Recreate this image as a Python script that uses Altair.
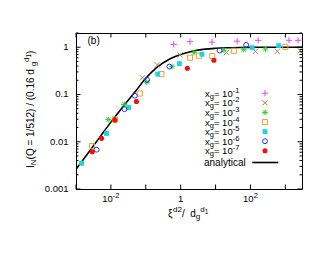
import altair as alt
import pandas as pd

FONT = "Liberation Sans"

# ---------------- data ----------------
xg1_x = [0.63, 1.85, 7.9, 41.6, 166, 1270, 2300]
xg1_y = [1.15, 1.31, 1.28, 1.34, 1.40, 1.40, 1.40]
xg2_x = [0.080, 0.215, 0.957, 20.6, 139, 590, 2680]
xg2_y = [0.225, 0.42, 0.69, 0.77, 0.82, 0.82, 0.84]
xg3_x = [0.0084, 0.024, 0.107, 0.565, 2.4, 17.3, 64.5, 269]
xg3_y = [0.0296, 0.0615, 0.182, 0.39, 0.77, 0.865, 0.89, 0.92]
xg4_x = [0.00287, 0.013, 0.0675, 0.28, 1.85, 3.34, 8.03, 33.4, 1000]
xg4_y = [0.0081, 0.0296, 0.105, 0.27, 0.60, 0.66, 0.65, 0.84, 1.02]
xg5_x = [0.00145, 0.0075, 0.0327, 0.22, 0.916, 4.07, 112, 646]
xg5_y = [0.0035, 0.015, 0.053, 0.27, 0.45, 0.71, 0.98, 1.08]
xg6_x = [0.0039, 0.0245, 0.0485, 0.109, 0.474, 13, 75]
xg6_y = [0.0068, 0.049, 0.094, 0.204, 0.39, 0.85, 1.12]
xg7_x = [0.00293, 0.0054, 0.013, 0.054, 1.55, 8.96]
xg7_y = [0.00615, 0.0118, 0.0287, 0.071, 0.36, 0.53]

curve_x = [0.001, 0.002, 0.005, 0.01, 0.02, 0.05, 0.1, 0.2, 0.5, 1, 2, 5, 10, 20, 50, 100, 300, 1000, 3000]
curve_y = [0.0026, 0.0052, 0.013, 0.026, 0.05, 0.115, 0.22, 0.365, 0.57, 0.70, 0.81, 0.91, 0.95, 0.975, 0.99, 0.995, 1.0, 1.0, 1.0]

legend_exps = ["-1", "-2", "-3", "-4", "-5", "-6", "-7"]

y_major = [0.001, 0.01, 0.1, 1]
y_labels = ["0.001", "0.01", "0.1", "1"]
y_minor = [2e-3, 3e-3, 4e-3, 5e-3, 6e-3, 7e-3, 8e-3, 9e-3,
           2e-2, 3e-2, 4e-2, 5e-2, 6e-2, 7e-2, 8e-2, 9e-2,
           0.2, 0.3, 0.4, 0.5, 0.6, 0.7, 0.8, 0.9, 2]
x_major = [1e-3, 1e-2, 1e-1, 1, 10, 100, 1000]
x_lab_vals = [0.01, 1, 100]
x_lab_base = ["10", "1", "10"]
x_lab_exp = ["-2", "", "2"]

# ---------------- helpers ----------------
W, H = 226, 156
XS = alt.Scale(type="log", domain=[1e-3, 3e3], nice=False)
YS = alt.Scale(type="log", domain=[1e-3, 2], nice=False)
dummy = pd.DataFrame({"d": [0]})

CW = {' ': .278, '(': .333, ')': .333, 'Q': .778, '=': .584, '/': .278, '.': .278,
      'd': .556, 'g': .556, 'I': .278, 'N': .722, 'x': .5, '-': .333, 'ξ': .5,
      'a': .556, 'n': .556, 'l': .222, 'y': .5, 't': .278, 'i': .222, 'c': .5}


def tw(s, size):
    return sum(CW.get(c, .556) for c in s) * size


def txt(text, x, y, size=10, align="left", baseline="alphabetic", angle=0):
    return alt.Chart(dummy).mark_text(
        text=text, align=align, baseline=baseline, fontSize=size, font=FONT,
        color="black", angle=angle).encode(x=alt.value(x), y=alt.value(y))


def pieces_h(parts, x0, by):
    out, x = [], x0
    for t, s, dy in parts:
        out.append(txt(t, x, by + dy, s))
        x += tw(t, s)
    return out


def pieces_v(parts, y0, bx):
    out, y = [], y0
    for t, s, dx in parts:
        out.append(txt(t, bx + dx, y, s, angle=270))
        y -= tw(t, s)
    return out


PLUS = "M-1,0L1,0M0,-1L0,1"
CROSS = "M-1,-1L1,1M-1,1L1,-1"
STAR = "M-1,0L1,0M0,-1L0,1M-0.75,-0.75L0.75,0.75M-0.75,0.75L0.75,-0.75"

styles = [
    (PLUS, False, "#e34be3", 40),
    (CROSS, False, "#a8874f", 28),
    (STAR, False, "#2fd02f", 34),
    ("square", False, "#f2a030", 26),
    ("square", True, "#1ad6e0", 24),
    ("circle", False, "#2233ff", 24),
    ("circle", True, "#f01010", 26),
]
series = [(xg1_x, xg1_y), (xg2_x, xg2_y), (xg3_x, xg3_y), (xg4_x, xg4_y),
          (xg5_x, xg5_y), (xg6_x, xg6_y), (xg7_x, xg7_y)]

layers = []

# analytical curve
layers.append(alt.Chart(pd.DataFrame({"x": curve_x, "y": curve_y})).mark_line(
    color="black", strokeWidth=1.6, interpolate="monotone", clip=True).encode(
    x=alt.X("x:Q", scale=XS, axis=None), y=alt.Y("y:Q", scale=YS, axis=None)))

# data points
for (sx, sy), (shape, filled, col, size) in zip(series, styles):
    df = pd.DataFrame({"x": sx, "y": sy})
    layers.append(alt.Chart(df).mark_point(
        shape=shape, filled=filled, color=col, size=size, strokeWidth=1, opacity=1).encode(
        x=alt.X("x:Q", scale=XS, axis=None), y=alt.Y("y:Q", scale=YS, axis=None)))

# ticks (inward, mirrored)
ymaj = pd.DataFrame({"v": y_major})
ymin = pd.DataFrame({"v": y_minor})
xmaj = pd.DataFrame({"v": x_major})
for d, L in ((ymaj, 4.5), (ymin, 2.5)):
    layers.append(alt.Chart(d).mark_rule(color="black", strokeWidth=1).encode(
        y=alt.Y("v:Q", scale=YS, axis=None), x=alt.value(0), x2=alt.value(L)))
    layers.append(alt.Chart(d).mark_rule(color="black", strokeWidth=1).encode(
        y=alt.Y("v:Q", scale=YS, axis=None), x=alt.value(W), x2=alt.value(W - L)))
layers.append(alt.Chart(xmaj).mark_rule(color="black", strokeWidth=1).encode(
    x=alt.X("v:Q", scale=XS, axis=None), y=alt.value(H), y2=alt.value(H - 4.5)))
layers.append(alt.Chart(xmaj).mark_rule(color="black", strokeWidth=1).encode(
    x=alt.X("v:Q", scale=XS, axis=None), y=alt.value(0), y2=alt.value(4.5)))

# y tick labels
layers.append(alt.Chart(pd.DataFrame({"v": y_major, "t": y_labels})).mark_text(
    align="right", baseline="middle", fontSize=9.5, font=FONT, color="black").encode(
    y=alt.Y("v:Q", scale=YS, axis=None), x=alt.value(-7.5), text="t:N"))

# x tick labels
for v, b, e in zip(x_lab_vals, x_lab_base, x_lab_exp):
    d = pd.DataFrame({"v": [v]})
    bw, ew = tw(b, 9.5), tw(e, 7.5)
    off = bw - (bw + ew) / 2
    layers.append(alt.Chart(d).mark_text(
        text=b, align="right", baseline="alphabetic", fontSize=9.5, font=FONT,
        color="black", dx=off).encode(x=alt.X("v:Q", scale=XS, axis=None), y=alt.value(169)))
    if e:
        layers.append(alt.Chart(d).mark_text(
            text=e, align="left", baseline="alphabetic", fontSize=7.5, font=FONT,
            color="black", dx=off).encode(x=alt.X("v:Q", scale=XS, axis=None), y=alt.value(165)))

# x title
layers += pieces_h([("ξ", 10, 0), ("d2", 8, -4.5), (" / ", 10, 0), ("d", 10, 0),
                    ("g", 8, 2.5), ("d", 8, -4.5), ("1", 6.4, -3)], 92, 183.5)

# y title
layers += pieces_v([("I", 10, 0), ("N", 8, 2.5), (" (Q = 1/512) / (0.16 d", 10, 0),
                    ("g", 8, 2.5), ("d", 8, -4.5), ("1", 6.4, -3), (")", 10, 0)], 135, -42.5)

# panel label
layers.append(txt("(b)", 11.5, 11, 10))

# legend
for i, e in enumerate(legend_exps):
    my = 60.2 + 9.6 * i
    layers += pieces_h([("x", 9.5, 0), ("g", 7.5, 2), ("= 10", 9.5, 0), (e, 7.5, -4)], 129, my + 3.5)
    shape, filled, col, size = styles[i]
    layers.append(alt.Chart(dummy).mark_point(
        shape=shape, filled=filled, color=col, size=size, strokeWidth=1, opacity=1).encode(
        x=alt.value(189), y=alt.value(my)))
layers.append(txt("analytical", 128, 130.3, 10, baseline="middle"))
layers.append(alt.Chart(dummy).mark_rule(color="black", strokeWidth=1.6).encode(
    x=alt.value(176.3), x2=alt.value(202.3), y=alt.value(129.5)))

chart = alt.layer(*layers).properties(
    width=W, height=H,
    autosize=alt.AutoSizeParams(type="none"),
    padding={"left": 68, "top": 25, "right": 16, "bottom": 50},
).configure_view(stroke="black", strokeWidth=1)

chart.save("out.html", embed_options={"renderer": "svg", "actions": False})
